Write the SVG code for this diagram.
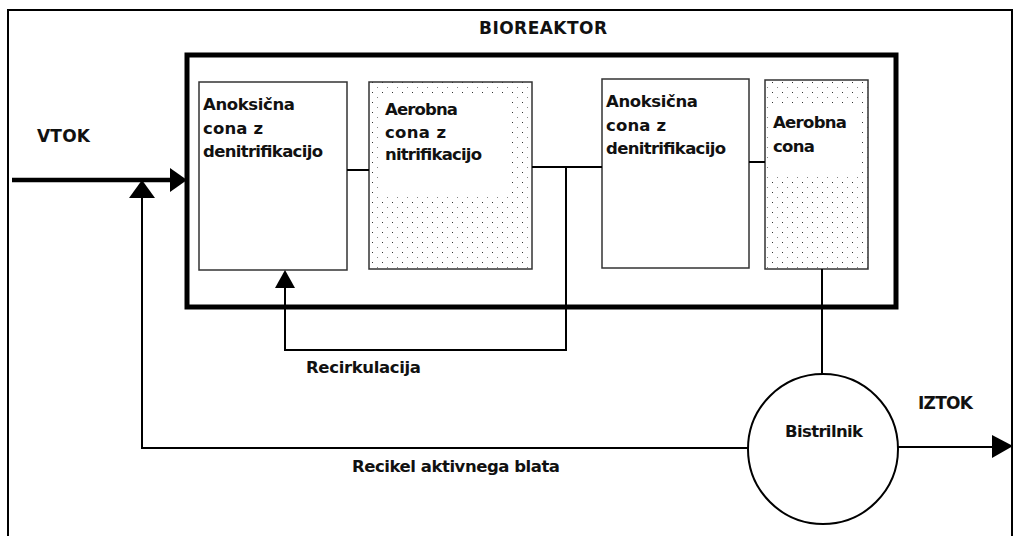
<svg xmlns="http://www.w3.org/2000/svg" width="1018" height="536" viewBox="0 0 1018 536">
  <style>
    .lbl { font-family: "DejaVu Sans", "Liberation Sans", sans-serif; font-weight: bold; font-size: 16.5px; fill: #111; }
    .big { font-size: 17px; }
    .zone { stroke: #333; stroke-width: 1.5; }
    .plain { fill: #fff; }
    .dotted { fill: url(#dots); }
    .wire { fill: none; stroke: #000; stroke-width: 2; }
    .head { fill: #000; }
  </style>
  <defs>
    <pattern id="dots" x="0" y="0" width="10" height="10" patternUnits="userSpaceOnUse">
      <rect width="10" height="10" fill="#fff"/>
      <rect x="2" y="2" width="1" height="1" fill="#333"/>
      <rect x="7" y="7" width="1" height="1" fill="#888"/>
    </pattern>
  </defs>

  <rect width="1018" height="536" fill="#fff"/>
  <!-- page frame -->
  <rect x="8" y="10" width="1004" height="540" fill="none" stroke="#000" stroke-width="2"/>

  <g id="bioreaktor">
    <rect x="187" y="55" width="709" height="252" fill="none" stroke="#000" stroke-width="5"/>
    <text class="lbl big" x="479" y="34" textLength="128" lengthAdjust="spacing">BIOREAKTOR</text>
  </g>

  <g id="anoxic1">
    <rect class="zone plain" x="199" y="82" width="148" height="188"/>
    <text class="lbl" x="203" y="110" textLength="92" lengthAdjust="spacing">Anoksična</text>
    <text class="lbl" x="203" y="134" textLength="60" lengthAdjust="spacing">cona z</text>
    <text class="lbl" x="203" y="157" textLength="120" lengthAdjust="spacing">denitrifikacijo</text>
  </g>

  <g id="aerobic1">
    <rect class="zone dotted" x="369" y="82" width="163" height="187"/>
    <rect x="380" y="97" width="132" height="99" fill="#fff"/>
    <text class="lbl" x="385" y="115" textLength="73" lengthAdjust="spacing">Aerobna</text>
    <text class="lbl" x="385" y="138" textLength="61" lengthAdjust="spacing">cona z</text>
    <text class="lbl" x="385" y="160" textLength="97" lengthAdjust="spacing">nitrifikacijo</text>
  </g>

  <g id="anoxic2">
    <rect class="zone plain" x="602" y="79" width="147" height="189"/>
    <text class="lbl" x="606" y="107" textLength="92" lengthAdjust="spacing">Anoksična</text>
    <text class="lbl" x="606" y="131" textLength="60" lengthAdjust="spacing">cona z</text>
    <text class="lbl" x="606" y="154" textLength="120" lengthAdjust="spacing">denitrifikacijo</text>
  </g>

  <g id="aerobic2">
    <rect class="zone dotted" x="765" y="80" width="103" height="189"/>
    <rect x="771" y="106" width="87" height="70" fill="#fff"/>
    <text class="lbl" x="773" y="128" textLength="74" lengthAdjust="spacing">Aerobna</text>
    <text class="lbl" x="773" y="152" textLength="42" lengthAdjust="spacing">cona</text>
  </g>

  <g id="bistrilnik">
    <circle cx="823" cy="449" r="75" fill="#fff" stroke="#000" stroke-width="2"/>
    <text class="lbl" x="785" y="437" textLength="78" lengthAdjust="spacing">Bistrilnik</text>
  </g>

  <g id="connectors">
    <!-- inflow -->
    <line x1="12" y1="180" x2="172" y2="180" stroke="#000" stroke-width="4.5"/>
    <polygon class="head" points="170,168 187,180 170,192"/>
    <text class="lbl big" x="37" y="142" textLength="53" lengthAdjust="spacing">VTOK</text>

    <!-- zone to zone -->
    <line class="wire" x1="347" y1="170" x2="369" y2="170"/>
    <line class="wire" x1="532" y1="167" x2="602" y2="167"/>
    <line class="wire" x1="749" y1="162" x2="765" y2="162"/>

    <!-- internal recirculation -->
    <polyline class="wire" points="566,167 566,350 285,350 285,285"/>
    <polygon class="head" points="275,288 285,270 295,288"/>
    <text class="lbl" x="306" y="373" textLength="115" lengthAdjust="spacing">Recirkulacija</text>

    <!-- to clarifier -->
    <line class="wire" x1="822" y1="269" x2="822" y2="374"/>

    <!-- return activated sludge -->
    <polyline class="wire" points="748,448 142,448 142,195"/>
    <polygon class="head" points="129,198 142,180 155,198"/>
    <text class="lbl" x="352" y="472" textLength="208" lengthAdjust="spacing">Recikel aktivnega blata</text>

    <!-- outflow -->
    <line class="wire" x1="898" y1="447" x2="994" y2="447"/>
    <polygon class="head" points="992,435 1013,446 992,458"/>
    <text class="lbl big" x="918" y="409" textLength="55" lengthAdjust="spacing">IZTOK</text>
  </g>
</svg>
